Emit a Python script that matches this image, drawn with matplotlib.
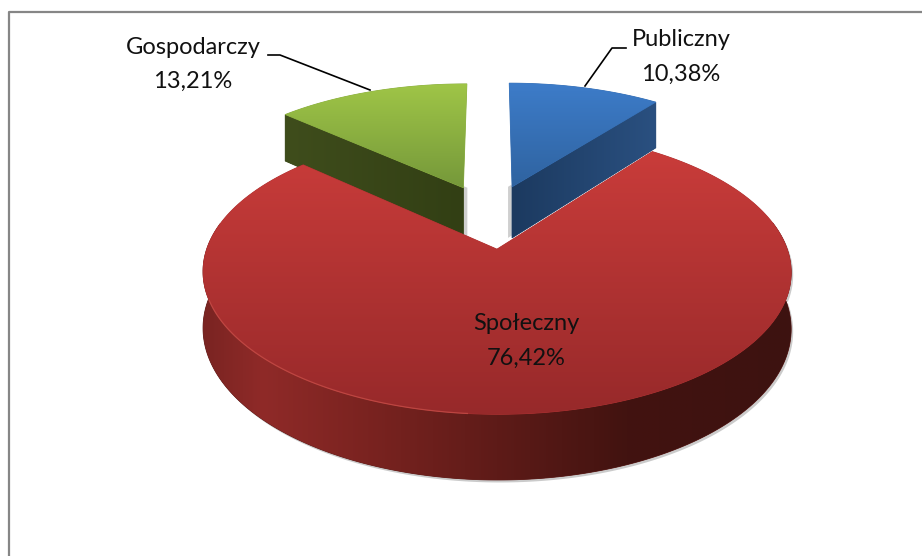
import numpy as np
import matplotlib
matplotlib.use('Agg')
import matplotlib.pyplot as plt
from matplotlib.colors import LinearSegmentedColormap
from matplotlib.patches import Polygon

# Chart values
labels = ['Publiczny', 'Społeczny', 'Gospodarczy']
values = [10.38, 76.42, 13.21]
value_labels = ['10,38%', '76,42%', '13,21%']

# Colours per slice: face top, face bottom, wall light, wall dark
face_top = ['#3d7cc9', '#c93c3a', '#9fc547']
face_bottom = ['#2f63a0', '#97292a', '#75983a']
wall_left = ['#1c3a60', '#8f2a28', '#3f4d1c']
wall_right = ['#2a5080', '#3d1210', '#323f14']

# Projection of the pie in pixels
CX, CY = 490.5, 216
RX, RY = 279, 128
PERSP = 0.155
EXPLODE = 0.25
DEPTH = 53


def project(u, v, drop=0.0):
    s = 1 / (1 + PERSP * v)
    return CX + RX * u * s, CY - RY * v * s + drop * s


def slice_outline(start, end, offset, drop=0.0):
    # angles are clockwise from north, in radians
    a = np.linspace(start, end, 200)
    u = np.r_[offset[0], offset[0] + np.sin(a)]
    v = np.r_[offset[1], offset[1] + np.cos(a)]
    x, y = project(u, v, drop)
    return np.column_stack([x, y])


def fill_gradient(ax, verts, c1, c2, horizontal=False, zorder=2, cmap=None):
    if cmap is None:
        cmap = LinearSegmentedColormap.from_list('g', [c1, c2])
    # solid base under the clipped image, keeps the edges from going pale
    ax.add_patch(Polygon(verts, closed=True, fc=cmap(0.5), ec=cmap(0.5), lw=0.6, zorder=zorder - 0.01))
    grad = np.linspace(0, 1, 256)
    grad = grad.reshape(1, -1) if horizontal else grad.reshape(-1, 1)
    x0, y0 = verts.min(axis=0)
    x1, y1 = verts.max(axis=0)
    im = ax.imshow(grad, cmap=cmap, extent=(x0, x1, y1, y0), aspect='auto',
                   origin='upper', zorder=zorder, interpolation='bilinear')
    poly = Polygon(verts, closed=True, transform=ax.transData,
                   facecolor='none', edgecolor='none')
    ax.add_patch(poly)
    im.set_clip_path(poly)


def wall_between(u, v):
    # band hanging below the path u, v
    x, y = project(u, v)
    xb, yb = project(u, v, DEPTH)
    return np.r_[np.column_stack([x, y]), np.column_stack([xb, yb])[::-1]]


fig = plt.figure(figsize=(9.22, 5.56), dpi=100)
ax = fig.add_axes([0, 0, 1, 1])
ax.set_xlim(0, 922)
ax.set_ylim(556, 0)
ax.axis('off')

# Frame, only the top and left sides are in the crop
ax.plot([9, 9, 922], [556, 12, 12], color='#868686', lw=1.6, zorder=1)

plt.rcParams['font.family'] = ['Lato', 'DejaVu Sans']

# Slice angles from the values
fracs = np.array(values) / np.sum(values) * 2 * np.pi
ends = np.cumsum(fracs)
starts = ends - fracs
mids = (starts + ends) / 2
offsets = [(EXPLODE * np.sin(m), EXPLODE * np.cos(m)) for m in mids]

# Green and blue first, the red slice overlaps both
for i, z in [(2, 3), (0, 3)]:
    off = offsets[i]
    edge_a = starts[i] if i == 2 else ends[i]
    u = np.array([off[0], off[0] + np.sin(edge_a)])
    v = np.array([off[1], off[1] + np.cos(edge_a)])
    verts = wall_between(u, v)
    sh = verts + np.array([-4 if i == 0 else 4, 0])
    ax.add_patch(Polygon(sh, closed=True, fc='#b0b0b0', ec='none', alpha=0.6, zorder=z - 0.5))
    fill_gradient(ax, verts, wall_left[i], wall_right[i], horizontal=True, zorder=z)
    fill_gradient(ax, slice_outline(starts[i], ends[i], off), face_top[i], face_bottom[i], zorder=z + 0.1)

# Red slice: shadow, outer wall, then top face
off = offsets[1]
a = np.linspace(starts[1], ends[1], 500)
u = off[0] + np.sin(a)
v = off[1] + np.cos(a)
lower = v < off[1] + 0.2
wall = wall_between(u[lower], v[lower])
ax.add_patch(Polygon(wall + np.array([2, 2.5]), closed=True, fc='#b5b5b5', ec='none', alpha=0.7, zorder=4.5))
wall_cmap = LinearSegmentedColormap.from_list('w', [(0, '#7a2422'), (0.1, '#8f2a28'), (0.28, '#7a2320'),
                                                    (0.5, '#5e1b18'), (0.72, '#421310'), (1, '#3d1210')])
fill_gradient(ax, wall, None, None, horizontal=True, zorder=5, cmap=wall_cmap)

face = slice_outline(starts[1], ends[1], off)
fill_gradient(ax, face, face_top[1], face_bottom[1], zorder=6)

# Light rim on the front left of the red face
front = (a > np.radians(185)) & (a < np.radians(250))
rx, ry = project(u[front], v[front])
ax.plot(rx, ry, color='#c9504a', lw=0.9, alpha=0.7, zorder=6.5)

# Leader lines
ax.plot([268, 280, 370], [55, 55, 90], color='black', lw=1.2, zorder=7)
ax.plot([585, 612, 626], [86, 48, 48], color='black', lw=1.2, zorder=7)

# Labels
font = dict(fontsize=17, color='#111111', ha='center', va='center', zorder=8)
ax.text(681, 40, labels[0], **font)
ax.text(681, 74, value_labels[0], **font)
ax.text(526, 324, labels[1], **font)
ax.text(526, 358, value_labels[1], **font)
ax.text(193, 48, labels[2], **font)
ax.text(193, 81, value_labels[2], **font)

ax.set_xlim(0, 922)
ax.set_ylim(556, 0)
fig.savefig('out.png', dpi=100)
